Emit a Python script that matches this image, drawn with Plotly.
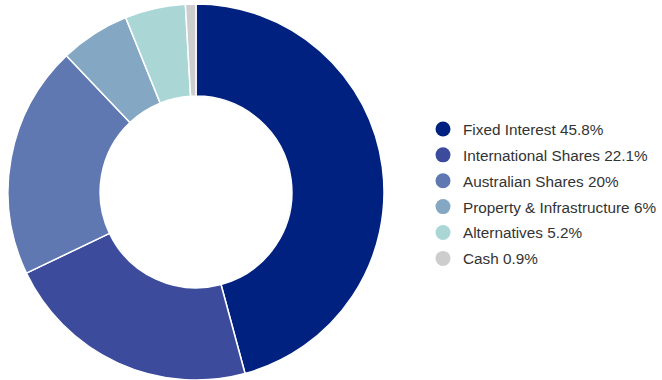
import plotly.graph_objects as go

labels = ["Fixed Interest", "International Shares", "Australian Shares",
          "Property & Infrastructure", "Alternatives", "Cash"]
values = [45.8, 22.1, 20, 6, 5.2, 0.9]
colors = ["#00217f", "#3c4b9b", "#5f78b2", "#84a8c3", "#aad6d6", "#cdcdcd"]

fig = go.Figure()
fig.add_trace(go.Pie(
    labels=labels, values=values, sort=False, direction="clockwise", rotation=0,
    hole=0.51, marker=dict(colors=colors, line=dict(color="white", width=1.5)),
    textinfo="none", hoverinfo="label+percent", showlegend=False,
    domain=dict(x=[8/662, 384/662], y=[0/380, 376/380]),
))
for lab, val, col in zip(labels, values, colors):
    fig.add_trace(go.Scatter(
        x=[None], y=[None], mode="markers", name=f"{lab} {val:g}%",
        legendgroup=lab,
        marker=dict(symbol="circle", size=15, color=col),
    ))

fig.update_layout(
    width=662, height=380, margin=dict(l=0, r=0, t=0, b=0, autoexpand=False),
    paper_bgcolor="white", plot_bgcolor="white",
    xaxis=dict(visible=False), yaxis=dict(visible=False),
    legend=dict(x=1.0, y=0.4895, xanchor="right", yanchor="middle",
                font=dict(family="Liberation Sans, Arial", size=15.3, color="#333333"),
                tracegroupgap=3, itemwidth=30, traceorder="grouped"),
)
fig.write_html("out.html")
